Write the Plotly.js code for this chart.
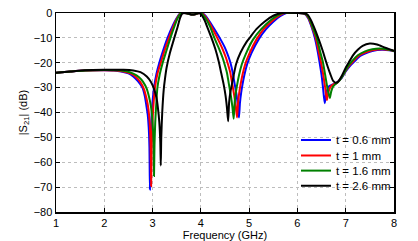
<!DOCTYPE html>
<html>
<head>
<meta charset="utf-8">
<script src="https://cdn.plot.ly/plotly-3.0.1.min.js"></script>
<style>html,body{margin:0;padding:0;background:#fff;}#chart{width:418px;height:241px;}</style>
</head>
<body>
<div id="chart"></div>
<script>
// Series labels and colors
const seriesNames = ['t = 0.6 mm', 't = 1 mm', 't = 1.6 mm', 't = 2.6 mm'];
const seriesColors = ['#0000ff', '#ff0000', '#008000', '#000000'];

// t = 0.6 mm
const freq06 = [1.0,1.3,1.6,2.0,2.2,2.35,2.5,2.6,2.7,2.79,2.84,2.87,2.9,2.92,2.935,2.945,2.955,2.97,2.99,3.03,3.08,3.14,3.22,3.31,3.42,3.5,3.56,3.62,3.7,3.8,3.88,3.95,4.02,4.08,4.15,4.25,4.39,4.5,4.58,4.62,4.66,4.7,4.74,4.77,4.79,4.81,4.835,4.86,4.9,4.96,5.05,5.2,5.35,5.5,5.65,5.77,6.0,6.15,6.22,6.3,6.36,6.42,6.46,6.5,6.53,6.565,6.6,6.65,6.72,6.8,6.9,7.0,7.1,7.18,7.3,7.4,7.55,7.75,7.9,8.0];
const s21_06 = [-24.0,-23.5,-23.1,-23.0,-23.1,-23.5,-24.3,-25.5,-27.5,-30,-33.5,-37,-41,-46,-54,-71,-55,-45,-38,-30,-24.5,-20,-15,-10,-5,-2,-0.3,0,-0.1,-0.6,-0.5,-0.1,0,-0.8,-2.5,-5.5,-10,-14,-18,-20.5,-24,-28.5,-33,-38,-42,-36,-32,-29,-25,-20.5,-16,-10.5,-6.5,-3.5,-1.2,0,0,-0.3,-2,-6,-10,-15.5,-20,-25,-30,-36.3,-32,-29.5,-28.8,-28.2,-26.5,-23.5,-21,-19.5,-17.3,-16.3,-15.3,-14.8,-15.0,-15.4];

// t = 1 mm
const freq10 = [1.0,1.3,1.6,2.0,2.25,2.4,2.55,2.65,2.74,2.82,2.87,2.91,2.94,2.96,2.97,2.98,2.995,3.015,3.05,3.1,3.17,3.25,3.34,3.44,3.51,3.57,3.63,3.7,3.8,3.88,3.95,4.01,4.07,4.14,4.22,4.34,4.45,4.52,4.56,4.61,4.65,4.69,4.725,4.75,4.77,4.795,4.82,4.86,4.92,5.0,5.15,5.3,5.47,5.62,5.74,6.0,6.16,6.23,6.31,6.38,6.44,6.49,6.54,6.575,6.61,6.645,6.7,6.76,6.82,6.9,7.0,7.08,7.15,7.27,7.4,7.55,7.75,7.9,8.0];
const s21_10 = [-24.0,-23.5,-23.1,-23.0,-23.1,-23.5,-24.4,-25.6,-27.6,-30.5,-34,-38,-44,-54,-69.6,-55,-45,-38,-30,-24.5,-20,-15,-10,-5,-2,-0.3,0,-0.1,-0.6,-0.5,-0.1,0,-0.9,-2.7,-5.5,-10,-14.5,-18,-20.5,-24,-28.5,-33,-38,-42,-36,-32,-29,-25,-20.5,-16.5,-10.7,-6.5,-3.3,-1.1,0,0,-0.3,-2,-6,-10,-15.5,-20,-25.5,-30,-35,-31.5,-29.3,-28.6,-28.1,-26.3,-23.2,-21,-19.5,-17.2,-15.9,-15.0,-14.6,-14.9,-15.3];

// t = 1.6 mm
const freq16 = [1.0,1.3,1.6,2.0,2.3,2.45,2.6,2.72,2.8,2.88,2.93,2.97,3.0,3.02,3.03,3.04,3.055,3.075,3.1,3.15,3.21,3.29,3.37,3.46,3.52,3.58,3.64,3.7,3.8,3.88,3.94,4.0,4.05,4.12,4.19,4.28,4.38,4.45,4.49,4.54,4.58,4.62,4.655,4.68,4.7,4.725,4.75,4.79,4.85,4.93,5.08,5.25,5.42,5.58,5.71,6.0,6.17,6.24,6.32,6.4,6.47,6.53,6.58,6.62,6.67,6.7,6.74,6.79,6.84,6.92,7.0,7.07,7.12,7.25,7.4,7.55,7.7,7.85,8.0];
const s21_16 = [-24.0,-23.5,-23.1,-22.9,-23.0,-23.4,-24.4,-25.8,-27.6,-30.5,-34,-38,-44,-52,-65.5,-53,-44,-37,-30,-24.5,-20,-15,-10,-5,-2,-0.3,0,-0.1,-0.6,-0.5,-0.1,0,-0.9,-2.8,-5.5,-10,-14.5,-18,-20.5,-24,-28.5,-33,-38,-42.5,-36,-32,-29,-25,-20.5,-16.5,-10.7,-6.5,-3.3,-1.1,0,0,-0.3,-2,-6,-10,-15.5,-20,-25.5,-30,-34.2,-31.5,-29.5,-28.5,-27.8,-25.8,-23,-20.8,-19.6,-17,-15.4,-14.6,-14.3,-14.6,-15.3];

// t = 2.6 mm
const freq26 = [1.0,1.3,1.6,2.0,2.4,2.6,2.75,2.88,2.97,3.03,3.08,3.11,3.14,3.16,3.17,3.18,3.2,3.23,3.26,3.29,3.36,3.45,3.52,3.57,3.61,3.66,3.72,3.8,3.88,3.93,3.97,4.02,4.08,4.15,4.22,4.3,4.37,4.42,4.47,4.51,4.54,4.565,4.585,4.61,4.64,4.68,4.73,4.82,4.95,5.01,5.15,5.33,5.5,5.67,6.0,6.2,6.27,6.35,6.43,6.52,6.6,6.68,6.74,6.79,6.84,6.92,7.0,7.06,7.15,7.25,7.35,7.5,7.65,7.8,7.9,8.0];
const s21_26 = [-24.0,-23.5,-23.0,-22.8,-22.8,-23.1,-23.8,-25.5,-27.8,-30.5,-34,-38,-44,-52,-61.3,-50,-40,-31,-26,-22,-16,-10,-5.5,-2,-0.3,0,-0.1,-0.6,-0.5,-0.1,0,-1,-3,-6.5,-10,-14.5,-19.5,-24,-28.5,-33,-38,-43.5,-36,-32,-29,-25,-20.5,-16,-11.5,-10,-6.5,-3.3,-1.1,0,0,-0.5,-2.5,-6,-10,-15,-20,-24.5,-27.3,-28,-27.6,-25.2,-22,-20,-17,-14.8,-13.2,-12.3,-12.7,-13.8,-14.5,-15.2];

const xTicks = [1,2,3,4,5,6,7,8];
const yTicks = [-80,-70,-60,-50,-40,-30,-20,-10,0];

const xs = [freq06, freq10, freq16, freq26];
const ys = [s21_06, s21_10, s21_16, s21_26];
const legendIds = ['legend', 'legend2', 'legend3', 'legend4'];

const traces = xs.map((x, i) => ({
  x: x, y: ys[i], type: 'scatter', mode: 'lines', name: seriesNames[i],
  legend: legendIds[i],
  line: {color: seriesColors[i], width: 2, shape: 'spline', smoothing: 0.6}
}));

const fontFam = '"Liberation Sans", Arial, Helvetica, sans-serif';
const axisCommon = {
  showline: true, linecolor: '#000', linewidth: 1.5, mirror: 'allticks',
  ticks: 'inside', ticklen: 4, tickcolor: '#000', tickwidth: 1,
  showgrid: true, gridcolor: '#bdbdbd', griddash: 'dot', gridwidth: 1,
  zeroline: false, tickfont: {family: fontFam, size: 11, color: '#000'}
};

const legendYs = [0.362, 0.284, 0.208, 0.132];
function makeLegend(y) {
  return {
    x: 0.71, xanchor: 'left', y: y, yanchor: 'middle',
    bgcolor: 'rgba(0,0,0,0)', borderwidth: 0,
    font: {family: fontFam, size: 11.5, color: '#000'},
    itemwidth: 30
  };
}

const layout = {
  width: 418, height: 241,
  margin: {l: 56, r: 24, t: 13, b: 29},
  paper_bgcolor: '#fff', plot_bgcolor: '#fff',
  font: {family: fontFam, color: '#000'},
  showlegend: true,
  xaxis: Object.assign({}, axisCommon, {
    range: [1, 8], tickvals: xTicks, ticktext: xTicks.map(String),
    title: {text: 'Frequency (GHz)', font: {family: fontFam, size: 11}, standoff: 0}
  }),
  yaxis: Object.assign({}, axisCommon, {
    range: [-80, 0], tickvals: yTicks, ticktext: yTicks.map(v => v < 0 ? '\u2212' + Math.abs(v) : String(v)),
    title: {text: '|S<sub>21</sub>| (dB)', font: {family: fontFam, size: 11}, standoff: 4}
  }),
  legend: makeLegend(legendYs[0]),
  legend2: makeLegend(legendYs[1]),
  legend3: makeLegend(legendYs[2]),
  legend4: makeLegend(legendYs[3]),
  shapes: [{
    type: 'rect', xref: 'paper', yref: 'paper', layer: 'between',
    x0: 0.751, x1: 0.996, y0: 0.096, y1: 0.402,
    fillcolor: '#fff', line: {width: 0}
  }]
};

Plotly.newPlot('chart', traces, layout, {displayModeBar: false, staticPlot: true});
</script>
</body>
</html>
